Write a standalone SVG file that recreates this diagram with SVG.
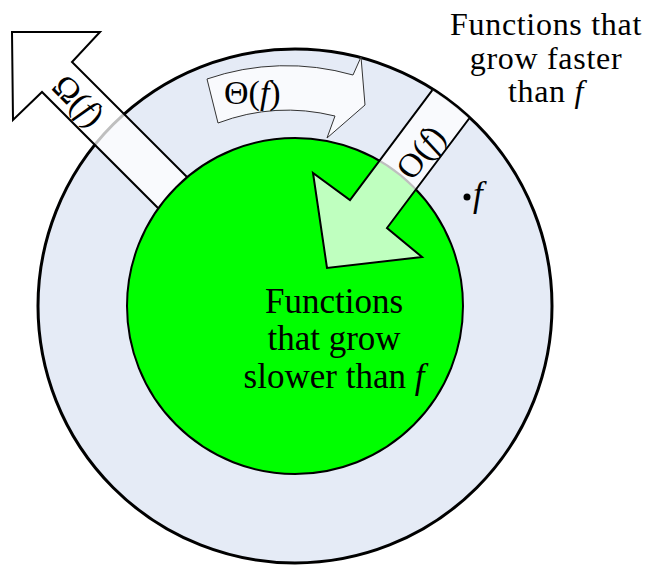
<svg xmlns="http://www.w3.org/2000/svg" width="650" height="567" viewBox="0 0 650 567">
<style>
.t{font-family:"Liberation Serif","DejaVu Serif",serif;font-size:35px;fill:#000}
.t2{font-family:"Liberation Serif","DejaVu Serif",serif;font-size:32px;letter-spacing:0.7px;fill:#000}
.lbl{font-family:"Liberation Serif","DejaVu Serif",serif;font-size:34px;fill:#000}
.it{font-style:italic}
.arr{fill:#fff;fill-opacity:0.75;stroke:#000;stroke-width:2;stroke-linejoin:miter}
</style>
<defs>
<clipPath id="outerClip"><circle cx="295" cy="306" r="256"/></clipPath>
</defs>
<g id="outer"><circle cx="295" cy="306" r="257" fill="#e5ebf6" stroke="#000" stroke-width="3"/></g>
<g id="connectors">
<g id="omega-arrow">
<polygon class="arr" points="12,32 100,32 72,62 222,212 192,242 42,92 13,120"/>
<text class="lbl" transform="translate(79,100) rotate(45)" text-anchor="middle" dy="12">Ω(<tspan class="it">f</tspan>)</text>
</g>
<g id="theta-arrow">
<path d="M207,79 A243,243 0 0 1 353,75 L361,57 L365,105 L327,138 L335,116 A198,198 0 0 0 218,123 Z" fill="#fff" fill-opacity="0.75" stroke="#333" stroke-width="1"/>
<text class="lbl" x="224" y="104">Θ(<tspan class="it">f</tspan>)</text>
</g>
</g>
<g id="inner"><circle cx="295" cy="306" r="168" fill="#00ff00" stroke="#000" stroke-width="2"/></g>
<g id="o-arrow">
<polygon class="arr" clip-path="url(#outerClip)" points="458,56 495,84 387,228 422,257 327,268 313,173 350,200"/>
<text class="lbl" transform="translate(420,152) rotate(-52.6)" text-anchor="middle" dy="12">O(<tspan class="it">f</tspan>)</text>
</g>
<g id="label-faster">
<text class="t2" text-anchor="middle"><tspan x="546" y="35">Functions that</tspan><tspan x="546" y="68.5">grow faster</tspan><tspan x="546" y="101.5">than <tspan class="it">f</tspan></tspan></text>
</g>
<g id="label-slower">
<text class="t" text-anchor="middle"><tspan x="334" y="313">Functions</tspan><tspan x="334" y="350">that grow</tspan><tspan x="334" y="388">slower than <tspan class="it">f</tspan></tspan></text>
</g>
<g id="point-f">
<circle cx="467" cy="197" r="3.5" fill="#000"/>
<text class="t it" x="473" y="206">f</text>
</g>
</svg>
